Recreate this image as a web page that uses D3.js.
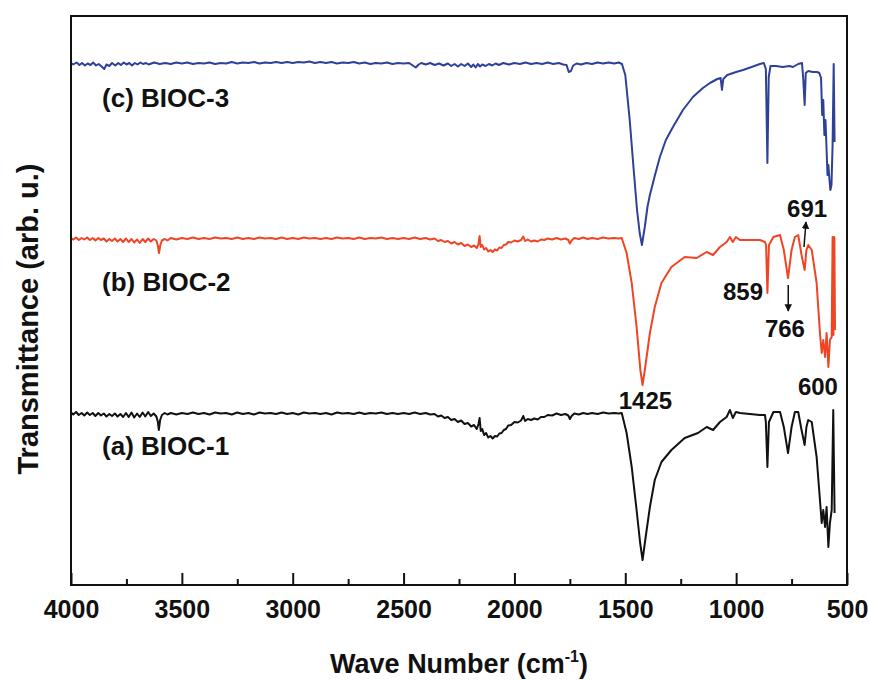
<!DOCTYPE html>
<html>
<head>
<meta charset="utf-8">
<script src="https://cdn.jsdelivr.net/npm/d3@7/dist/d3.min.js"></script>
<style>
  body { margin: 0; background: #fff; }
  text { font-family: "Liberation Sans", Arial, sans-serif; font-weight: bold; fill: #111; }
</style>
</head>
<body>
<svg id="chart" width="869" height="680"></svg>
<script>
// FTIR spectra, [wave number, transmittance (arb. u.)]
const bioc3 = [
  [4000,52.2],[3990,52.05],[3975,52.25],[3962,52.0],[3950,52.2],[3937,51.95],[3925,52.15],[3912,52.0],
  [3900,52.25],[3887,51.95],[3875,52.1],[3862,51.85],[3850,51.6],[3840,52.05],[3827,51.9],[3815,52.2],
  [3800,51.95],[3787,52.2],[3775,52.0],[3762,52.25],[3750,52.05],[3737,52.2],[3725,51.95],[3712,52.2],
  [3700,52.05],[3687,52.25],[3675,52.1],[3662,52.2],[3650,52.05],[3625,52.25],[3600,52.1],[3575,52.2],
  [3550,52.1],[3525,52.25],[3500,52.15],[3475,52.25],[3450,52.1],[3425,52.2],[3400,52.15],[3375,52.25],
  [3350,52.1],[3325,52.2],[3300,52.15],[3275,52.3],[3250,52.15],[3225,52.25],[3200,52.2],[3175,52.3],
  [3150,52.15],[3125,52.25],[3100,52.2],[3075,52.3],[3050,52.2],[3025,52.3],[3000,52.2],[2975,52.3],
  [2950,52.25],[2925,52.35],[2900,52.2],[2875,52.3],[2850,52.2],[2825,52.3],[2800,52.15],[2775,52.25],
  [2750,52.2],[2725,52.3],[2700,52.15],[2675,52.25],[2650,52.1],[2625,52.2],[2600,52.15],[2575,52.25],
  [2550,52.1],[2525,52.2],[2500,52.15],[2475,52.2],[2455,51.9],[2445,51.75],[2432,52.05],[2420,52.2],
  [2400,52.05],[2380,52.2],[2360,52.0],[2340,52.15],[2320,51.95],[2300,52.15],[2285,51.9],[2270,52.1],
  [2255,51.85],[2240,52.1],[2225,51.9],[2210,52.15],[2195,51.8],[2185,52.05],[2175,51.75],[2165,52.1],
  [2155,51.85],[2145,52.05],[2130,51.9],[2115,52.1],[2100,51.95],[2085,52.15],[2070,52.0],[2050,52.2],
  [2025,52.05],[2000,52.2],[1975,52.1],[1950,52.25],[1925,52.1],[1900,52.2],[1875,52.1],[1850,52.25],
  [1825,52.1],[1800,52.2],[1780,52.05],[1765,52.0],[1755,51.3],[1745,51.4],[1735,51.95],[1720,52.15],
  [1700,52.05],[1675,52.2],[1650,52.1],[1625,52.25],[1600,52.15],[1575,52.25],[1550,52.15],[1530,52.25],
  [1515,52.1],
  [1500,51.0],[1480,46.5],[1462,41.5],[1447,37.5],[1435,35.2],[1425,34.0],[1412,35.8],[1400,37.8],
  [1389,39.0],[1366,41.0],[1344,42.8],[1317,44.5],[1285,45.8],[1240,47.5],[1195,48.8],[1150,49.7],
  [1118,50.2],[1085,50.6],[1070,50.7],[1064,49.5],[1058,50.6],[1040,51.0],[1000,51.3],[969,51.5],
  [930,51.8],[893,52.1],[875,52.2],[866,51.6],[859,42.2],[853,50.8],[845,51.9],[820,51.9],
  [790,51.8],[760,51.9],[744,51.8],[720,52.1],[703,52.2],[697,50.5],[691,48.0],[686,51.2],
  [675,51.4],[655,51.3],[635,51.3],[625,51.2],[617,50.7],[612,47.0],[607,48.5],[602,45.0],
  [597,46.5],[592,43.5],[588,41.0],[584,42.0],[579,40.5],[575,39.5],[570,40.0],[565,44.0],
  [560,52.1],[556,44.3]
];

const bioc2 = [
  [4000,34.7],[3990,34.55],[3977,34.75],[3965,34.5],[3952,34.7],[3940,34.55],[3927,34.75],[3915,34.5],
  [3902,34.7],[3890,34.45],[3877,34.7],[3865,34.5],[3852,34.65],[3840,34.35],[3827,34.6],[3815,34.4],
  [3802,34.65],[3790,34.35],[3777,34.6],[3765,34.3],[3752,34.65],[3740,34.3],[3727,34.6],[3715,34.25],
  [3702,34.55],[3690,34.2],[3677,34.6],[3665,34.3],[3652,34.65],[3640,34.35],[3627,34.6],[3615,34.45],
  [3608,33.9],[3603,33.2],[3597,34.0],[3590,34.45],[3577,34.6],[3565,34.45],[3550,34.7],[3525,34.55],
  [3500,34.7],[3475,34.6],[3450,34.75],[3425,34.6],[3400,34.7],[3375,34.6],[3350,34.75],[3325,34.65],
  [3300,34.7],[3275,34.6],[3250,34.75],[3225,34.6],[3200,34.7],[3175,34.6],[3150,34.75],[3125,34.65],
  [3100,34.7],[3075,34.6],[3050,34.75],[3025,34.6],[3000,34.7],[2975,34.6],[2950,34.75],[2925,34.65],
  [2900,34.7],[2875,34.6],[2850,34.7],[2825,34.6],[2800,34.75],[2775,34.65],[2750,34.7],[2725,34.6],
  [2700,34.75],[2675,34.6],[2650,34.7],[2625,34.65],[2600,34.75],[2575,34.6],[2550,34.7],[2525,34.6],
  [2500,34.7],[2475,34.6],[2450,34.75],[2425,34.6],[2400,34.7],[2380,34.55],[2360,34.65],[2345,34.4],
  [2330,34.5],[2315,34.3],[2300,34.4],[2285,34.15],[2270,34.3],[2255,34.05],[2240,34.2],[2225,33.9],
  [2210,34.05],[2195,33.8],[2182,33.95],[2170,33.7],[2162,34.1],[2157,34.9],[2152,33.8],[2145,34.0],
  [2137,33.55],[2128,33.7],[2118,33.35],[2108,33.5],[2098,33.3],[2088,33.55],[2078,33.45],[2068,33.75],
  [2058,33.7],[2048,34.0],[2038,34.05],[2028,34.3],[2015,34.25],[2000,34.45],[1985,34.35],[1970,34.5],
  [1960,34.85],[1952,34.4],[1940,34.55],[1925,34.35],[1910,34.45],[1895,34.35],[1880,34.55],[1865,34.5],
  [1850,34.65],[1830,34.55],[1810,34.7],[1790,34.55],[1770,34.65],[1757,34.5],[1750,34.15],[1742,34.45],
  [1730,34.7],[1710,34.6],[1690,34.75],[1670,34.6],[1650,34.7],[1625,34.6],[1600,34.75],[1575,34.65],
  [1550,34.7],[1530,34.65],[1516,34.7],
  [1494,33.2],[1471,30.2],[1449,25.8],[1432,21.5],[1422,20.0],[1410,21.8],[1389,25.2],[1367,27.8],
  [1337,30.2],[1292,31.8],[1232,32.8],[1178,32.7],[1133,33.3],[1104,33.0],[1073,33.8],[1043,34.3],
  [1028,34.8],[1015,34.3],[1001,34.8],[983,34.5],[893,34.5],[870,34.3],[865,34.0],[859,29.2],
  [852,34.0],[832,34.8],[802,35.0],[785,33.5],[766,30.7],[750,33.5],[735,34.8],[720,35.0],
  [705,33.0],[691,31.5],[683,33.5],[675,34.0],[659,33.5],[637,30.2],[622,25.2],[614,23.2],
  [607,24.5],[599,22.8],[592,25.2],[584,21.8],[577,24.5],[569,24.8],[565,34.8],[561,25.0],
  [557,34.8],[554,25.5]
];

const bioc1 = [
  [4000,17.25],[3990,17.05],[3977,17.3],[3965,17.0],[3952,17.2],[3940,16.95],[3927,17.25],[3915,17.0],
  [3902,17.2],[3890,16.9],[3877,17.2],[3865,16.95],[3852,17.15],[3840,16.85],[3827,17.1],[3815,16.9],
  [3802,17.15],[3790,16.85],[3777,17.1],[3765,16.8],[3752,17.2],[3740,16.8],[3727,17.25],[3715,16.75],
  [3702,17.15],[3690,16.8],[3677,17.25],[3665,16.85],[3652,17.3],[3640,16.9],[3627,17.15],[3615,16.85],
  [3608,16.3],[3604,15.5],[3598,16.5],[3590,17.0],[3577,17.2],[3565,17.05],[3550,17.2],[3525,17.05],
  [3500,17.2],[3475,17.1],[3450,17.25],[3425,17.1],[3400,17.2],[3375,17.05],[3350,17.25],[3325,17.15],
  [3300,17.2],[3275,17.05],[3250,17.25],[3225,17.1],[3200,17.2],[3175,17.05],[3150,17.25],[3125,17.15],
  [3100,17.2],[3075,17.1],[3050,17.25],[3025,17.1],[3000,17.2],[2975,17.05],[2950,17.25],[2925,17.15],
  [2900,17.2],[2875,17.1],[2850,17.2],[2825,17.05],[2800,17.25],[2775,17.15],[2750,17.2],[2725,17.1],
  [2700,17.25],[2675,17.1],[2650,17.2],[2625,17.15],[2600,17.25],[2575,17.1],[2550,17.2],[2525,17.1],
  [2500,17.2],[2475,17.1],[2450,17.25],[2425,17.1],[2400,17.2],[2380,17.05],[2360,17.1],[2345,16.85],
  [2330,16.95],[2315,16.7],[2300,16.8],[2285,16.5],[2270,16.6],[2255,16.3],[2240,16.45],[2225,16.1],
  [2210,16.2],[2195,15.85],[2182,16.0],[2170,15.6],[2162,16.1],[2157,16.7],[2152,15.4],[2145,15.6],
  [2137,15.0],[2128,15.2],[2118,14.75],[2108,14.9],[2098,14.65],[2088,14.9],[2078,14.85],[2068,15.15],
  [2058,15.2],[2048,15.5],[2038,15.6],[2028,15.95],[2015,16.0],[2000,16.3],[1985,16.25],[1970,16.45],
  [1960,16.9],[1952,16.4],[1940,16.6],[1925,16.5],[1910,16.65],[1895,16.55],[1880,16.8],[1865,16.8],
  [1850,17.0],[1830,16.95],[1810,17.15],[1790,17.0],[1770,17.1],[1757,16.95],[1750,16.6],[1742,16.9],
  [1730,17.15],[1710,17.05],[1690,17.2],[1670,17.1],[1650,17.2],[1625,17.1],[1600,17.25],[1575,17.15],
  [1550,17.2],[1530,17.15],[1516,17.2],
  [1494,15.2],[1471,11.8],[1449,7.5],[1433,4.2],[1422,2.5],[1410,4.5],[1389,7.8],[1367,10.5],
  [1337,12.3],[1292,13.5],[1232,14.7],[1172,15.2],[1133,15.8],[1104,15.5],[1073,16.3],[1043,16.8],
  [1028,17.5],[1015,16.7],[1001,17.3],[983,17.2],[893,17.0],[870,17.0],[866,16.3],[859,11.8],
  [852,16.3],[832,17.3],[802,17.3],[785,15.8],[766,13.2],[750,15.8],[735,17.3],[720,17.3],
  [705,15.5],[691,14.0],[683,15.8],[675,16.5],[659,16.3],[637,12.8],[622,8.5],[614,6.2],
  [607,7.5],[599,5.8],[592,7.8],[584,3.8],[577,6.2],[569,7.5],[562,17.5],[556,7.2]
];

const seriesNames = ["(c) BIOC-3", "(b) BIOC-2", "(a) BIOC-1"];
const seriesColors = ["#2f4099", "#ef4524", "#111111"];
// label anchor in data units [wave number, transmittance]
const seriesLabelAt = [[3860, 47.8], [3860, 29.4], [3860, 13.0]];

const majorTicks = [4000, 3500, 3000, 2500, 2000, 1500, 1000, 500];
const minorTicks = [3750, 3250, 2750, 2250, 1750, 1250, 750];

// peak labels [text, wave number, transmittance of baseline]
const peakLabels = [
  ["1425", 1409, 17.6],
  ["859", 969, 28.5],
  ["766", 780, 24.8],
  ["691", 680, 36.8],
  ["600", 631, 19.0]
];
// arrows [from wn, from T, to wn, to T]
const peakArrows = [
  [765, 30.0, 765, 27.4],
  [694, 33.8, 685, 36.3]
];

let margin = { top: 16, right: 22, bottom: 95, left: 71 };
let width = 869 - margin.left - margin.right;
let height = 680 - margin.top - margin.bottom;

let svg = d3.select("#chart");

svg.append("defs").append("marker")
  .attr("id", "arrowhead")
  .attr("viewBox", "0 0 10 10")
  .attr("refX", 9).attr("refY", 5)
  .attr("markerWidth", 5).attr("markerHeight", 6)
  .attr("markerUnits", "strokeWidth")
  .attr("orient", "auto")
  .append("path")
  .attr("d", "M0,0 L10,5 L0,10 z")
  .attr("fill", "#111");

let g = svg.append("g")
  .attr("transform", `translate(${margin.left},${margin.top})`);

let x = d3.scaleLinear().domain([4000, 500]).range([0, width]);
let y = d3.scaleLinear().domain([0, 56.9]).range([height, 0]);

let line = d3.line()
  .x(d => x(d[0]))
  .y(d => y(d[1]));

///// spectra
[bioc3, bioc2, bioc1].forEach((s, i) => {
  g.append("path")
    .datum(s)
    .attr("d", line)
    .attr("fill", "none")
    .attr("stroke", seriesColors[i])
    .attr("stroke-width", 2)
    .attr("stroke-linejoin", "round");

  g.append("text")
    .attr("x", x(seriesLabelAt[i][0]))
    .attr("y", y(seriesLabelAt[i][1]))
    .style("font-size", "26px")
    .text(seriesNames[i]);
});

///// bottom axis, ticks point inwards
let xAxis = g.append("g")
  .attr("transform", `translate(0,${height})`)
  .call(d3.axisBottom(x).tickValues(majorTicks).tickSize(-12).tickPadding(15).tickFormat(d3.format("d")));
xAxis.select(".domain").remove();
xAxis.selectAll("line").attr("stroke", "#111").attr("stroke-width", 2);
xAxis.selectAll("text")
  .attr("fill", "#111")
  .style("font-family", "\"Liberation Sans\", Arial, sans-serif")
  .style("font-weight", "bold")
  .style("font-size", "25px");

let xMinor = g.append("g")
  .attr("transform", `translate(0,${height})`)
  .call(d3.axisBottom(x).tickValues(minorTicks).tickSize(-6).tickFormat(""));
xMinor.select(".domain").remove();
xMinor.selectAll("line").attr("stroke", "#111").attr("stroke-width", 2);

// frame
g.append("rect")
  .attr("x", 0).attr("y", 0)
  .attr("width", width).attr("height", height)
  .attr("fill", "none")
  .attr("stroke", "#111")
  .attr("stroke-width", 2);

///// peak labels
g.selectAll(".peak")
  .data(peakLabels)
  .enter()
  .append("text")
  .attr("class", "peak")
  .attr("x", d => x(d[1]))
  .attr("y", d => y(d[2]))
  .attr("text-anchor", "middle")
  .style("font-size", "24px")
  .text(d => d[0]);

g.selectAll(".arrow")
  .data(peakArrows)
  .enter()
  .append("line")
  .attr("class", "arrow")
  .attr("x1", d => x(d[0])).attr("y1", d => y(d[1]))
  .attr("x2", d => x(d[2])).attr("y2", d => y(d[3]))
  .attr("stroke", "#111")
  .attr("stroke-width", 1.5)
  .attr("marker-end", "url(#arrowhead)");

///// axis titles
let xTitle = svg.append("text")
  .attr("x", margin.left + width / 2)
  .attr("y", 673)
  .attr("text-anchor", "middle")
  .style("font-size", "27px");
xTitle.append("tspan").text("Wave Number (cm");
xTitle.append("tspan").attr("dy", -11).style("font-size", "16px").text("-1");
xTitle.append("tspan").attr("dy", 11).text(")");

svg.append("text")
  .attr("transform", `translate(38,${margin.top + 303}) rotate(-90)`)
  .attr("text-anchor", "middle")
  .style("font-size", "29px")
  .text("Transmittance (arb. u.)");
</script>
</body>
</html>
